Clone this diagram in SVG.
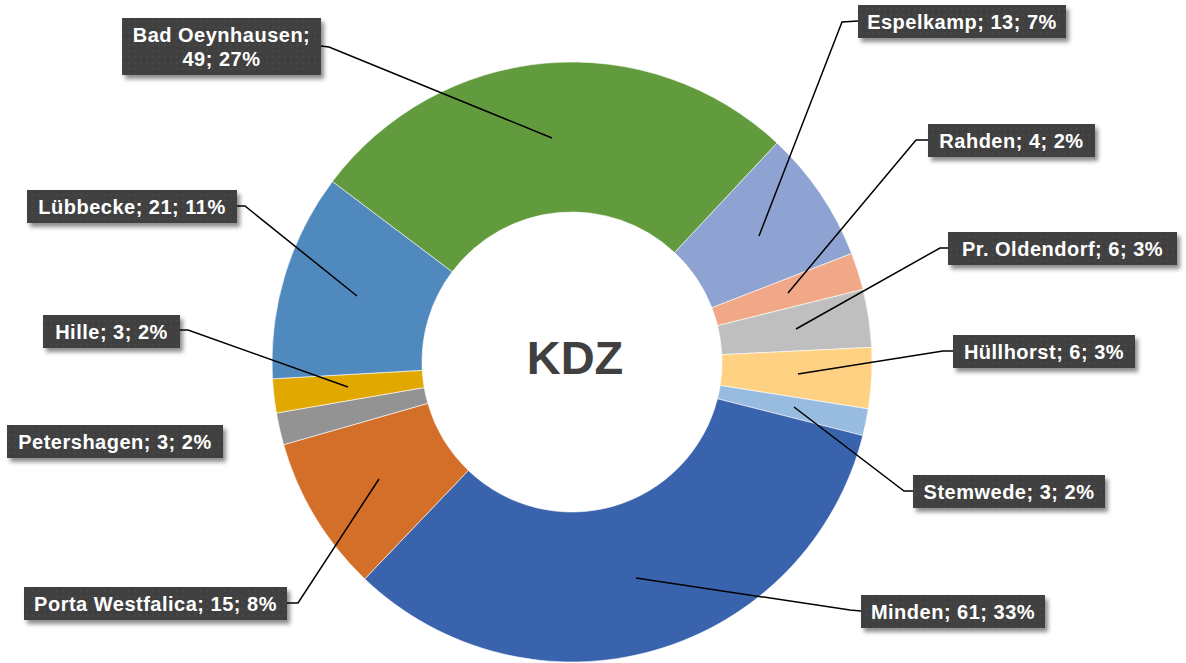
<svg xmlns="http://www.w3.org/2000/svg" width="1186" height="663" viewBox="0 0 1186 663">
  <defs>
    <filter id="shadow" x="-10%" y="-20%" width="125%" height="160%">
      <feDropShadow dx="3" dy="4" stdDeviation="2.2" flood-color="#000" flood-opacity="0.45"/>
    </filter>
    <pattern id="dots" width="6" height="6" patternUnits="userSpaceOnUse">
      <rect width="6" height="6" fill="#404040"/>
      <circle cx="3" cy="3" r="0.8" fill="#4d4d4d"/>
    </pattern>
  </defs>
  <style>
    .seg { stroke: #ffffff; stroke-width: 0.6; }
    .box { fill: url(#dots); filter: url(#shadow); }
    .lbl { font-family: "Liberation Sans", Arial, sans-serif; font-weight: bold; font-size: 20px; letter-spacing: 0.5px; fill: #ffffff; text-anchor: middle; }
    .lead { fill: none; stroke: #000000; stroke-width: 1.5; }
    .title { font-family: "Liberation Sans", Arial, sans-serif; font-weight: bold; font-size: 47px; fill: #404040; text-anchor: middle; }
  </style>
  <rect width="1186" height="663" fill="#ffffff"/>

  <g id="segments">
    <path id="seg-espelkamp" class="seg" fill="#8FA3D3" d="M776.98,142.95 A300,300 0 0 1 851.70,253.51 L711.85,307.76 A150,150 0 0 0 674.49,252.48 Z"/>
    <path id="seg-rahden" class="seg" fill="#F0A889" d="M851.70,253.51 A300,300 0 0 1 863.09,289.42 L717.55,325.71 A150,150 0 0 0 711.85,307.76 Z"/>
    <path id="seg-oldendorf" class="seg" fill="#BFBFBF" d="M863.09,289.42 A300,300 0 0 1 871.64,347.35 L721.82,354.67 A150,150 0 0 0 717.55,325.71 Z"/>
    <path id="seg-huellhorst" class="seg" fill="#FFD283" d="M871.64,347.35 A300,300 0 0 1 868.31,408.93 L720.15,385.46 A150,150 0 0 0 721.82,354.67 Z"/>
    <path id="seg-stemwede" class="seg" fill="#98BBE0" d="M868.31,408.93 A300,300 0 0 1 862.84,435.59 L717.42,398.80 A150,150 0 0 0 720.15,385.46 Z"/>
    <path id="seg-minden" class="seg" fill="#3A63AD" d="M862.84,435.59 A300,300 0 0 1 364.74,578.89 L468.37,470.45 A150,150 0 0 0 717.42,398.80 Z"/>
    <path id="seg-porta" class="seg" fill="#D46F2A" d="M364.74,578.89 A300,300 0 0 1 283.62,444.69 L427.81,403.35 A150,150 0 0 0 468.37,470.45 Z"/>
    <path id="seg-petershagen" class="seg" fill="#939393" d="M283.62,444.69 A300,300 0 0 1 276.38,413.06 L424.19,387.53 A150,150 0 0 0 427.81,403.35 Z"/>
    <path id="seg-hille" class="seg" fill="#E1A800" d="M276.38,413.06 A300,300 0 0 1 272.47,378.75 L422.23,370.37 A150,150 0 0 0 424.19,387.53 Z"/>
    <path id="seg-luebbecke" class="seg" fill="#4F89BD" d="M272.47,378.75 A300,300 0 0 1 332.41,181.45 L452.20,271.73 A150,150 0 0 0 422.23,370.37 Z"/>
    <path id="seg-oeynhausen" class="seg" fill="#629A3E" d="M332.41,181.45 A300,300 0 0 1 776.98,142.95 L674.49,252.48 A150,150 0 0 0 452.20,271.73 Z"/>
  </g>

  <g id="connectors">
    <polyline class="lead" points="321,46 329,47 552,138"/>
    <polyline class="lead" points="858,21 842,22 759,236"/>
    <polyline class="lead" points="928,140 916,140 788,293"/>
    <polyline class="lead" points="948,248 940,248 796,329"/>
    <polyline class="lead" points="953,351 943,351 798,374"/>
    <polyline class="lead" points="913,491 904,491 794,407"/>
    <polyline class="lead" points="861,611 850,610 636,578"/>
    <polyline class="lead" points="287,603 298,603 379,479"/>
    <polyline class="lead" points="180,330 188,330 348,387"/>
    <polyline class="lead" points="237,206 245,206 357,296"/>
  </g>

  <g id="center-title">
    <text class="title" x="575" y="374">KDZ</text>
  </g>

  <g id="label-oeynhausen">
    <rect class="box" x="122" y="18" width="199" height="57"/>
    <text class="lbl" x="221.5" y="42">Bad Oeynhausen;</text>
    <text class="lbl" x="221.5" y="66">49; 27%</text>
  </g>
  <g id="label-espelkamp">
    <rect class="box" x="858" y="5" width="208" height="33"/>
    <text class="lbl" x="962" y="29">Espelkamp; 13; 7%</text>
  </g>
  <g id="label-rahden">
    <rect class="box" x="928" y="124" width="167" height="33"/>
    <text class="lbl" x="1011.5" y="148">Rahden; 4; 2%</text>
  </g>
  <g id="label-oldendorf">
    <rect class="box" x="948" y="232" width="229" height="33"/>
    <text class="lbl" x="1062.5" y="256">Pr. Oldendorf; 6; 3%</text>
  </g>
  <g id="label-huellhorst">
    <rect class="box" x="953" y="335" width="182" height="33"/>
    <text class="lbl" x="1044" y="359">Hüllhorst; 6; 3%</text>
  </g>
  <g id="label-stemwede">
    <rect class="box" x="913" y="475" width="192" height="33"/>
    <text class="lbl" x="1009" y="499">Stemwede; 3; 2%</text>
  </g>
  <g id="label-minden">
    <rect class="box" x="861" y="595" width="184" height="33"/>
    <text class="lbl" x="953" y="619">Minden; 61; 33%</text>
  </g>
  <g id="label-porta">
    <rect class="box" x="24" y="587" width="263" height="33"/>
    <text class="lbl" x="155.5" y="611">Porta Westfalica; 15; 8%</text>
  </g>
  <g id="label-petershagen">
    <rect class="box" x="7" y="425" width="216" height="33"/>
    <text class="lbl" x="115" y="449">Petershagen; 3; 2%</text>
  </g>
  <g id="label-hille">
    <rect class="box" x="43" y="315" width="137" height="33"/>
    <text class="lbl" x="111.5" y="339">Hille; 3; 2%</text>
  </g>
  <g id="label-luebbecke">
    <rect class="box" x="27" y="190" width="210" height="33"/>
    <text class="lbl" x="132" y="214">Lübbecke; 21; 11%</text>
  </g>
</svg>
